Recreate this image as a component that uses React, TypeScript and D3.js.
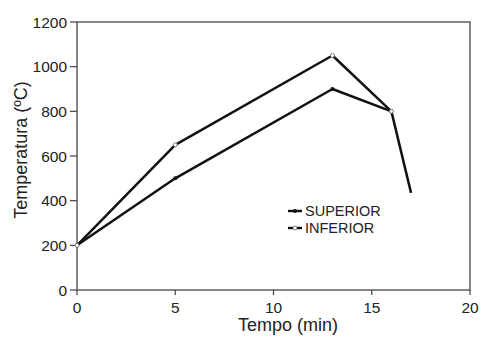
import React from "react";
import * as d3 from "d3";

const tempo = [0, 5, 13, 16, 17];
const superior = [200, 500, 900, 800, 435];
const inferior = [200, 650, 1050, 800];
const xTicks = [0, 5, 10, 15, 20];
const yTicks = [0, 200, 400, 600, 800, 1000, 1200];
const seriesNames = ["SUPERIOR", "INFERIOR"];

export default function App() {
  const W = 483, H = 338;
  const m = { l: 77, r: 470, t: 22, b: 290 };
  const x = d3.scaleLinear().domain([0, 20]).range([m.l, m.r]);
  const y = d3.scaleLinear().domain([0, 1200]).range([m.b, m.t]);
  const line = d3.line<number>().x((_, i) => x(tempo[i])).y((d) => y(d));
  const font = "Liberation Sans, Arial, sans-serif";
  const col = "#111";
  return (
    <svg width={W} height={H} style={{ position: "absolute", left: 0, top: 0 }}>
      <rect width={W} height={H} fill="#fff" />
      <rect x={m.l} y={m.t} width={m.r - m.l} height={m.b - m.t} fill="none" stroke="#555" strokeWidth={1.4} />
      {yTicks.map((t) => (
        <g key={"y" + t}>
          <line x1={m.l - 7} x2={m.l} y1={y(t)} y2={y(t)} stroke="#444" strokeWidth={1.2} />
          <text x={m.l - 10} y={y(t)} dy="0.36em" textAnchor="end" fontFamily={font} fontSize={15.5} fill="#222">{t}</text>
        </g>
      ))}
      {xTicks.map((t) => (
        <g key={"x" + t}>
          <line x1={x(t)} x2={x(t)} y1={m.b} y2={m.b + 5} stroke="#444" strokeWidth={1.2} />
          <text x={x(t)} y={313} textAnchor="middle" fontFamily={font} fontSize={15.5} fill="#222">{t}</text>
        </g>
      ))}
      <text x={288} y={331} textAnchor="middle" fontFamily={font} fontSize={18} fill="#222">Tempo (min)</text>
      <text transform={`translate(27,150) rotate(-90)`} textAnchor="middle" fontFamily={font} fontSize={18} fill="#222">Temperatura (ºC)</text>
      <path d={line(superior) || ""} fill="none" stroke={col} strokeWidth={2.5} strokeLinejoin="round" />
      <path d={line(inferior) || ""} fill="none" stroke={col} strokeWidth={2.5} strokeLinejoin="round" />
      {superior.slice(0, 4).map((v, i) => (
        <circle key={"s" + i} cx={x(tempo[i])} cy={y(v)} r={2} fill={col} />
      ))}
      {inferior.map((v, i) => (
        <circle key={"i" + i} cx={x(tempo[i])} cy={y(v)} r={2} fill="#fff" stroke="#666" strokeWidth={0.8} />
      ))}
      {seriesNames.map((n, k) => {
        const ly = 211 + k * 17;
        return (
          <g key={n}>
            <line x1={288} x2={302} y1={ly} y2={ly} stroke={col} strokeWidth={2.4} />
            {k === 0 ? (
              <circle cx={295} cy={ly} r={2} fill={col} />
            ) : (
              <circle cx={295} cy={ly} r={2} fill="#fff" stroke="#666" strokeWidth={0.8} />
            )}
            <text x={305} y={ly} dy="0.36em" fontFamily={font} fontSize={14.5} fill="#222">{n}</text>
          </g>
        );
      })}
    </svg>
  );
}
